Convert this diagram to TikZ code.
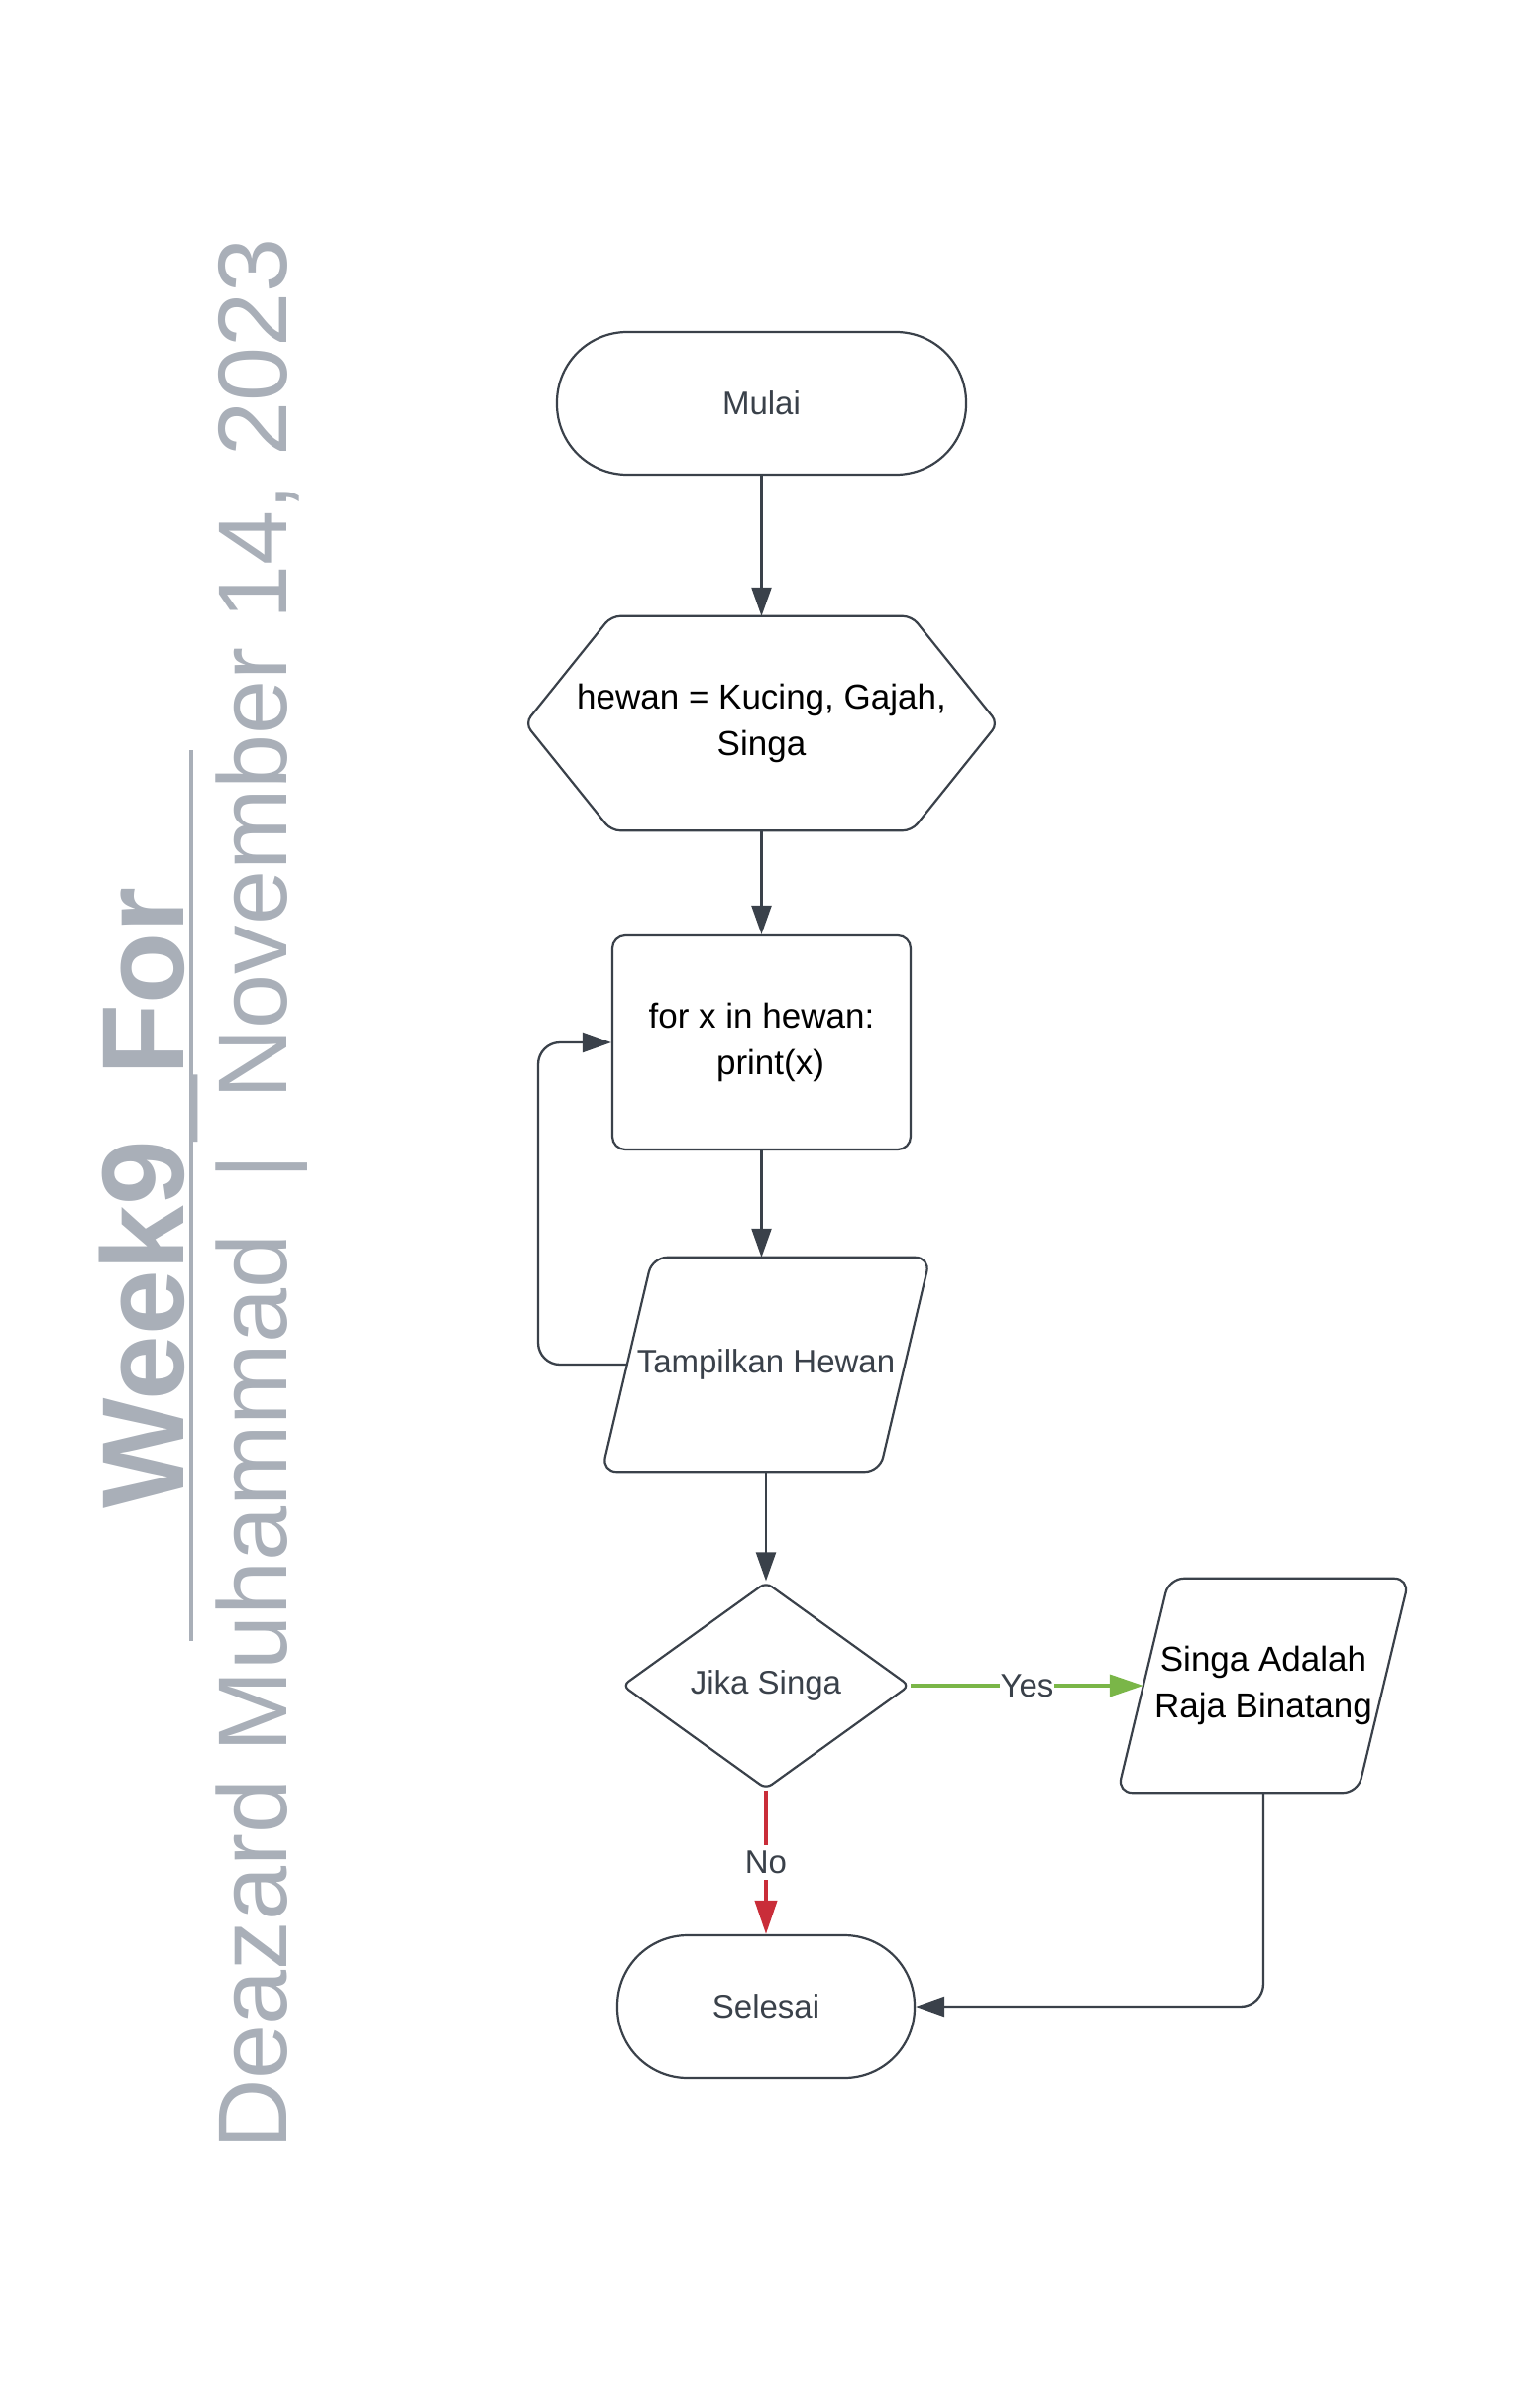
\documentclass[tikz,border=0pt]{standalone}
\usepackage{fontspec}
\setmainfont{Liberation Sans}
\usetikzlibrary{arrows.meta,shapes.geometric}
\definecolor{ln}{HTML}{3A414A}
\definecolor{wmc}{HTML}{A9AFB8}
\definecolor{gr}{HTML}{7AB648}
\definecolor{rd}{HTML}{C92D39}
\begin{document}
\begin{tikzpicture}[x=1pt,y=-1pt,
  shapeline/.style={draw=ln, line width=2.2pt},
  dtext/.style={text=ln, font=\fontsize{33}{47}\selectfont, inner sep=0pt},
  btext/.style={text=black, font=\fontsize{35}{47}\selectfont, inner sep=0pt, align=center},
  conn/.style={draw=ln, line width=2.3pt, -{Triangle[length=29pt,width=20pt]}},
  gconn/.style={draw=gr, line width=4pt, -{Triangle[length=34pt,width=22pt]}},
  rconn/.style={draw=rd, line width=4pt, -{Triangle[length=34pt,width=22pt]}},
  lab/.style={fill=white, text=ln, font=\fontsize{33}{40}\selectfont, inner xsep=1pt, inner ysep=6pt},
  wm/.style={text=wmc, inner sep=0pt}
]
\useasboundingbox (0,0) rectangle (1538,2430);

% watermark
\node[wm, font=\fontsize{118}{120}\selectfont\bfseries, rotate=90, anchor=base] (title) at (185,1209) {Week9\_For};
\node[wm, font=\fontsize{99}{110}\selectfont, rotate=90, anchor=base] (sub) at (289,1205) {Deazard Muhammad\ \ |\ \ November 14, 2023};
\coordinate (ulA) at (193,757);
\coordinate (ulB) at (193,1656);
\draw[draw=wmc, line width=3.5pt] (ulA) -- (ulB);

% start
\node[dtext, shapeline, rounded corners=71pt, minimum width=413pt, minimum height=144pt] (mulai) at (768.5,407) {Mulai};

% hexagon
\node[btext, minimum width=477pt, minimum height=216pt] (hex) at (768.5,730) {hewan = Kucing, Gajah,\\Singa};
\draw[shapeline, rounded corners=9pt] (hex.west) -- ([xshift=87pt]hex.north west) -- ([xshift=-87pt]hex.north east) -- (hex.east) -- ([xshift=-87pt]hex.south east) -- ([xshift=87pt]hex.south west) -- cycle;

% for box
\node[btext, shapeline, rounded corners=13pt, minimum width=301pt, minimum height=216pt] (forb) at (768.5,1052) {for x in hewan:\\\hspace*{18pt}print(x)};

% Tampilkan parallelogram
\node[dtext, minimum width=280pt, minimum height=216pt] (tamp) at (773,1377) {Tampilkan Hewan};
\draw[shapeline, rounded corners=15pt] ([xshift=25.5pt]tamp.north west) -- ([xshift=25.5pt]tamp.north east) -- ([xshift=-25.5pt]tamp.south east) -- ([xshift=-25.5pt]tamp.south west) -- cycle;

% decision
\node[dtext, diamond, shapeline, rounded corners=7pt, minimum width=290pt, minimum height=209pt] (jika) at (773,1701) {Jika Singa};

% Singa parallelogram
\node[btext, minimum width=242pt, minimum height=216pt] (singa) at (1275,1701) {Singa Adalah\\Raja Binatang};
\draw[shapeline, rounded corners=15pt] ([xshift=26pt]singa.north west) -- ([xshift=26pt]singa.north east) -- ([xshift=-26pt]singa.south east) -- ([xshift=-26pt]singa.south west) -- cycle;

% end
\node[dtext, shapeline, rounded corners=71pt, minimum width=300pt, minimum height=144pt] (sel) at (773,2025) {Selesai};

% connectors
\draw[conn] (mulai.south) -- (hex.north);
\draw[conn] (hex.south) -- (forb.north);
\draw[conn] (forb.south) -- (forb.south |- tamp.north);
\draw[conn] (tamp.south) -- (jika.north);
\coordinate (lx) at (543,1377);
\draw[conn, rounded corners=22pt] (tamp.west) -- (lx) -- (lx |- forb.west) -- (forb.west);
\draw[gconn] (jika.east) -- node[lab] (yes) {Yes} (singa.west);
\draw[rconn] (jika.south) -- node[lab] (no) {No} (sel.north);
\draw[conn, rounded corners=23pt] (singa.south) -- (singa.south |- sel.east) -- (sel.east);
\end{tikzpicture}
\end{document}
